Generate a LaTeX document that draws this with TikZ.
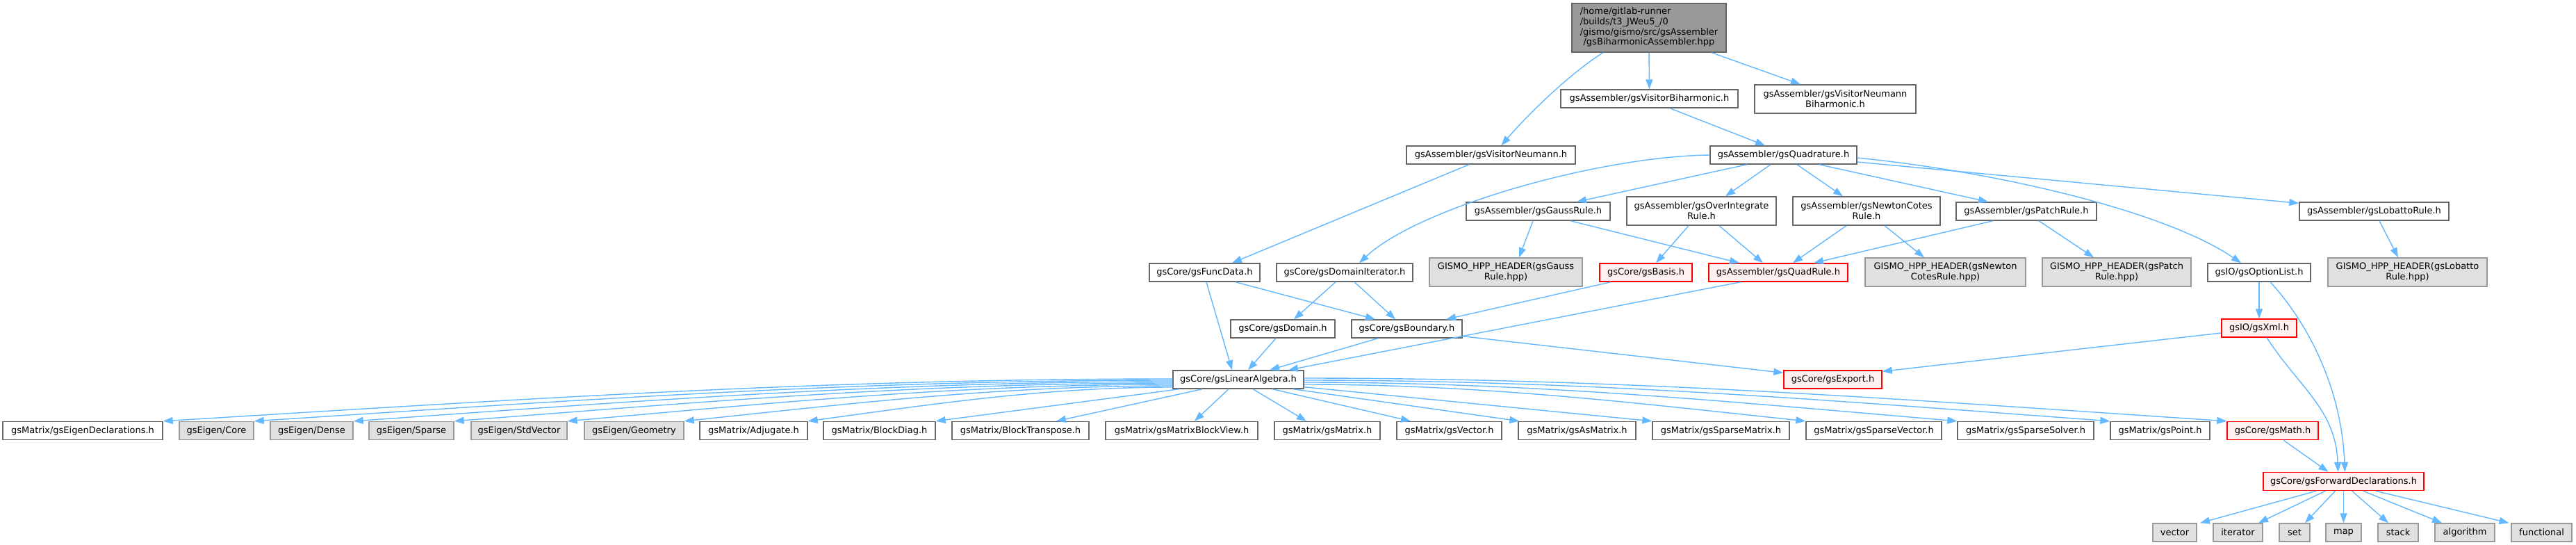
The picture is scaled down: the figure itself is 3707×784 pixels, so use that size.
\documentclass[tikz,border=0pt]{standalone}
\usepackage{fontspec}
\setmainfont{DejaVu Sans}
\usetikzlibrary{arrows.meta}
\definecolor{edgeblue}{HTML}{63B8FF}
\definecolor{nodeborder}{HTML}{666666}
\definecolor{extfill}{HTML}{E0E0E0}
\definecolor{extborder}{HTML}{999999}
\definecolor{redfill}{HTML}{FFF0F0}
\definecolor{redborder}{HTML}{FF0000}
\definecolor{topfill}{HTML}{999999}
\tikzset{
  base/.style={rectangle, inner sep=0pt, line width=1.4pt, font=\fontsize{13}{14.7}\selectfont, align=center, text=black},
  wn/.style={base, draw=nodeborder, fill=white},
  rn/.style={base, draw=redborder, fill=redfill},
  gn/.style={base, draw=extborder, fill=extfill},
  tn/.style={base, draw=nodeborder, fill=topfill},
  sz/.style 2 args={minimum width=#1pt, minimum height=#2pt},
  dep/.style={draw=edgeblue, line width=1.4pt, -{Triangle[length=14pt,width=10pt]}},
}
\begin{document}
\begin{tikzpicture}[x=1pt, y=-1pt]
\path[use as bounding box, fill=white] (0,0) rectangle (3707,784);

% ---- nodes ----
\node[tn, sz={222}{70}] (top) at (2373,40) {\begin{tabular}{@{}l@{}}/home/gitlab-runner\\/builds/t3\_JWeu5\_/0\\/gismo/gismo/src/gsAssembler\\\multicolumn{1}{@{}c@{}}{/gsBiharmonicAssembler.hpp}\end{tabular}};
\node[wn, sz={255}{26}] (vbih) at (2373.5,142) {gsAssembler/gsVisitorBiharmonic.h};
\node[wn, sz={232}{41}] (vnb) at (2641,142.5) {gsAssembler/gsVisitorNeumann\\Biharmonic.h};
\node[wn, sz={243}{26}] (vn) at (2145.5,223) {gsAssembler/gsVisitorNeumann.h};
\node[wn, sz={211}{26}] (quad) at (2566.5,223) {gsAssembler/gsQuadrature.h};
\node[wn, sz={207}{26}] (gauss) at (2213.5,304) {gsAssembler/gsGaussRule.h};
\node[wn, sz={215}{41}] (overint) at (2448.5,303.5) {gsAssembler/gsOverIntegrate\\Rule.h};
\node[wn, sz={212}{41}] (newton) at (2686,303.5) {gsAssembler/gsNewtonCotes\\Rule.h};
\node[wn, sz={202}{26}] (patch) at (2916,304) {gsAssembler/gsPatchRule.h};
\node[wn, sz={215}{26}] (lobatto) at (3416.5,304) {gsAssembler/gsLobattoRule.h};
\node[wn, sz={159}{26}] (funcdata) at (1733.5,392) {gsCore/gsFuncData.h};
\node[wn, sz={196}{26}] (domit) at (1935,392) {gsCore/gsDomainIterator.h};
\node[gn, sz={220}{41}] (hgauss) at (2167,391.5) {GISMO\_HPP\_HEADER(gsGauss\\Rule.hpp)};
\node[rn, sz={133}{26}] (basis) at (2368.5,392) {gsCore/gsBasis.h};
\node[rn, sz={200}{26}] (quadrule) at (2559,392) {gsAssembler/gsQuadRule.h};
\node[gn, sz={231}{41}] (hnewton) at (2799.5,391.5) {GISMO\_HPP\_HEADER(gsNewton\\CotesRule.hpp)};
\node[gn, sz={214}{41}] (hpatch) at (3046,391.5) {GISMO\_HPP\_HEADER(gsPatch\\Rule.hpp)};
\node[wn, sz={148}{26}] (optlist) at (3251,392) {gsIO/gsOptionList.h};
\node[gn, sz={229}{41}] (hlobatto) at (3464.5,391.5) {GISMO\_HPP\_HEADER(gsLobatto\\Rule.hpp)};
\node[wn, sz={150}{26}] (domain) at (1846,473) {gsCore/gsDomain.h};
\node[wn, sz={159}{26}] (boundary) at (2024.5,473) {gsCore/gsBoundary.h};
\node[rn, sz={108}{26}] (xml) at (3251,472) {gsIO/gsXml.h};
\node[wn, sz={188}{26}] (la) at (1782,546) {gsCore/gsLinearAlgebra.h};
\node[rn, sz={141}{26}] (export) at (2637.5,546) {gsCore/gsExport.h};

\node[wn, sz={230}{26}] (eigdecl) at (119,619.5) {gsMatrix/gsEigenDeclarations.h};
\node[gn, sz={107}{26}] (core) at (311.5,619.5) {gsEigen/Core};
\node[gn, sz={119}{26}] (dense) at (448.5,619.5) {gsEigen/Dense};
\node[gn, sz={122}{26}] (sparse) at (592,619.5) {gsEigen/Sparse};
\node[gn, sz={138}{26}] (stdvec) at (747,619.5) {gsEigen/StdVector};
\node[gn, sz={143}{26}] (geom) at (912.5,619.5) {gsEigen/Geometry};
\node[wn, sz={155}{26}] (adj) at (1084.5,619.5) {gsMatrix/Adjugate.h};
\node[wn, sz={161}{26}] (bdiag) at (1265.5,619.5) {gsMatrix/BlockDiag.h};
\node[wn, sz={197}{26}] (btrans) at (1468.5,619.5) {gsMatrix/BlockTranspose.h};
\node[wn, sz={219}{26}] (mbv) at (1700.5,619.5) {gsMatrix/gsMatrixBlockView.h};
\node[wn, sz={152}{26}] (mat) at (1910,619.5) {gsMatrix/gsMatrix.h};
\node[wn, sz={151}{26}] (vec) at (2085.5,619.5) {gsMatrix/gsVector.h};
\node[wn, sz={169}{26}] (asm) at (2269.5,619.5) {gsMatrix/gsAsMatrix.h};
\node[wn, sz={197}{26}] (spm) at (2476.5,619.5) {gsMatrix/gsSparseMatrix.h};
\node[wn, sz={195}{26}] (spv) at (2696.5,619.5) {gsMatrix/gsSparseVector.h};
\node[wn, sz={196}{26}] (sps) at (2915,619.5) {gsMatrix/gsSparseSolver.h};
\node[wn, sz={143}{26}] (pt) at (3108.5,619.5) {gsMatrix/gsPoint.h};
\node[rn, sz={131}{26}] (math) at (3270.5,619.5) {gsCore/gsMath.h};

\node[rn, sz={231}{26}] (fwd) at (3372.5,692.5) {gsCore/gsForwardDeclarations.h};

\node[gn, sz={63}{26}] (vector) at (3129.5,766) {vector};
\node[gn, sz={71}{26}] (iterator) at (3220.5,766) {iterator};
\node[gn, sz={44}{26}] (set) at (3302,766) {set};
\node[gn, sz={51}{26}] (map) at (3372.5,766) {map};
\node[gn, sz={58}{26}] (stack) at (3451,766) {stack};
\node[gn, sz={86}{26}] (algorithm) at (3547,766) {algorithm};
\node[gn, sz={87}{26}] (functional) at (3657.5,766) {functional};

% ---- edges ----
\draw[dep] ([xshift=-66pt]top.south) .. controls +(-45,28) and +(40,-47) .. ([xshift=15pt]vn.north);
\draw[dep] (top.south) -- (vbih.north);
\draw[dep] ([xshift=90pt]top.south) -- ([xshift=-50pt]vnb.north);
\draw[dep] ([xshift=29.5pt]vbih.south) -- ([xshift=-26.5pt]quad.north);
\draw[dep] ([xshift=-31.5pt]vn.south) -- ([xshift=39.5pt]funcdata.north);
\draw[dep] (quad.west) .. controls +(-161,2) and +(84,-79) .. ([xshift=21pt]domit.north);
\draw[dep] ([xshift=-52.5pt]quad.south) -- ([xshift=55.5pt]gauss.north);
\draw[dep] ([xshift=-18.5pt]quad.south) -- ([xshift=34.5pt]overint.north);
\draw[dep] ([xshift=19.5pt]quad.south) -- ([xshift=-34pt]newton.north);
\draw[dep] ([xshift=51.5pt]quad.south) -- ([xshift=-55pt]patch.north);
\draw[dep] ([yshift=-10pt]quad.east) -- ([yshift=-2pt]lobatto.north west);
\draw[dep] ([yshift=-4pt]quad.east) .. controls +(200,20) and +(-110,-75) .. ([xshift=-26pt]optlist.north);

\draw[dep] ([xshift=-7.5pt]gauss.south) -- ([xshift=19pt]hgauss.north);
\draw[dep] ([xshift=46.5pt]gauss.south) -- ([xshift=-56pt]quadrule.north);
\draw[dep] ([xshift=-18.5pt]overint.south) -- ([xshift=14.5pt]basis.north);
\draw[dep] ([xshift=25.5pt]overint.south) -- ([xshift=-22pt]quadrule.north);
\draw[dep] ([xshift=-29pt]newton.south) -- ([xshift=21pt]quadrule.north);
\draw[dep] ([xshift=-48pt]patch.south) -- ([xshift=51pt]quadrule.north);
\draw[dep] ([xshift=26pt]newton.south) -- ([xshift=-30.5pt]hnewton.north);
\draw[dep] ([xshift=18pt]patch.south) -- ([xshift=-33pt]hpatch.north);
\draw[dep] ([xshift=7.5pt]lobatto.south) -- ([xshift=-13.5pt]hlobatto.north);
\draw[dep] (optlist.south) -- (xml.north);
\draw[dep] ([xshift=16pt]optlist.south) .. controls +(55,60) and +(-5,-120) .. ([xshift=2pt]fwd.north);
\draw[dep] ([yshift=-7pt]xml.west) -- ([yshift=-2pt]export.north east);
\draw[dep] ([xshift=11pt]xml.south) .. controls +(45,70) and +(-3,-90) .. ([xshift=-8pt]fwd.north);
\draw[dep] ([xshift=15.5pt]math.south) -- ([xshift=-22pt]fwd.north);

\draw[dep] ([xshift=2.5pt]funcdata.south) -- ([xshift=-9pt]la.north);
\draw[dep] ([xshift=44.5pt]funcdata.south) -- ([xshift=-45.5pt]boundary.north);
\draw[dep] ([xshift=-13pt]domit.south) -- ([xshift=16pt]domain.north);
\draw[dep] ([xshift=14pt]domit.south) -- ([xshift=-16.5pt]boundary.north);
\draw[dep] ([xshift=-50.5pt]basis.south) -- ([xshift=56.5pt]boundary.north);
\draw[dep] ([xshift=-54pt]quadrule.south) -- ([xshift=72pt]la.north);
\draw[dep] ([xshift=-10pt]domain.south) -- ([xshift=14pt]la.north);
\draw[dep] ([xshift=-41.5pt]boundary.south) -- ([xshift=45pt]la.north);
\draw[dep] ([yshift=3pt]boundary.south east) -- ([yshift=-4pt]export.north west);

\draw[dep] ([yshift=1pt]la.west) .. controls +(-509,0) and +(509,-31) .. (eigdecl.north east);
\draw[dep] ([yshift=-1pt]la.west) .. controls +(-463,0) and +(463,-30) .. (core.north east);
\draw[dep] ([yshift=-3pt]la.west) .. controls +(-413,0) and +(413,-29) .. (dense.north east);
\draw[dep] ([yshift=-5pt]la.west) .. controls +(-362,0) and +(362,-28) .. (sparse.north east);
\draw[dep] ([yshift=-7pt]la.west) .. controls +(-305,0) and +(305,-27) .. (stdvec.north east);
\draw[dep] ([yshift=-9pt]la.west) .. controls +(-246,0) and +(246,-26) .. (geom.north east);
\draw[dep] ([yshift=-11pt]la.west) .. controls +(-184,0) and +(184,-25) .. (adj.north east);
\draw[dep] ([xshift=10pt]la.south west) -- (bdiag.north east);
\draw[dep] ([xshift=43pt]la.south west) -- ([xshift=51.5pt]btrans.north);
\draw[dep] ([xshift=-14pt]la.south) -- ([xshift=18.5pt]mbv.north);
\draw[dep] ([xshift=21pt]la.south) -- ([xshift=-30pt]mat.north);
\draw[dep] ([xshift=49pt]la.south) -- ([xshift=-55.5pt]vec.north);
\draw[dep] ([xshift=-16pt]la.south east) -- ([xshift=2pt]asm.north west);
\draw[dep] ([yshift=3pt]la.south east) -- (spm.north west);
\draw[dep] ([yshift=-7pt]la.east) .. controls +(253,0) and +(-253,-27) .. (spv.north west);
\draw[dep] ([yshift=-4pt]la.east) .. controls +(329,0) and +(-329,-28) .. (sps.north west);
\draw[dep] ([yshift=-1pt]la.east) .. controls +(406,0) and +(-406,-30) .. (pt.north west);
\draw[dep] ([yshift=2pt]la.east) .. controls +(465,0) and +(-465,-31) .. (math.north west);

\draw[dep] ([xshift=-39pt]fwd.south) -- ([xshift=36.5pt]vector.north);
\draw[dep] ([xshift=-26pt]fwd.south) -- ([xshift=29.5pt]iterator.north);
\draw[dep] ([xshift=-12pt]fwd.south) -- ([xshift=15pt]set.north);
\draw[dep] (fwd.south) -- (map.north);
\draw[dep] ([xshift=12pt]fwd.south) -- ([xshift=-14pt]stack.north);
\draw[dep] ([xshift=28pt]fwd.south) -- ([xshift=-33pt]algorithm.north);
\draw[dep] ([xshift=46pt]fwd.south) -- ([xshift=-47pt]functional.north);
\end{tikzpicture}
\end{document}
